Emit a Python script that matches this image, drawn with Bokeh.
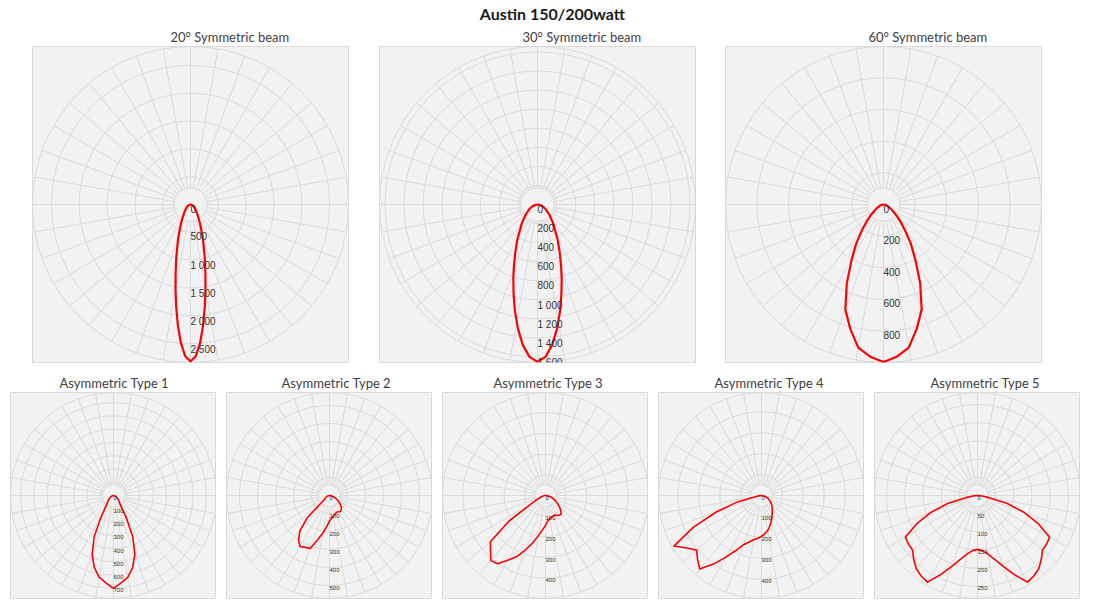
import numpy as np
from bokeh.plotting import figure
from bokeh.layouts import column, row
from bokeh.models import Range1d, Label
from bokeh.embed import file_html
from bokeh.resources import INLINE
from bokeh.core.properties import value

MAIN_TITLE = "Austin 150/200watt"

TITLES_TOP = ["20° Symmetric beam", "30° Symmetric beam", "60° Symmetric beam"]
TITLES_BOTTOM = ["Asymmetric Type 1", "Asymmetric Type 2", "Asymmetric Type 3",
                 "Asymmetric Type 4", "Asymmetric Type 5"]

# ---- symmetric curves (angle from nadir in degrees, intensity in cd) ----
beam20_angles = [0, 2, 4, 6, 8, 10, 12, 15, 20, 25, 30, 40, 50, 60, 70, 80, 90]
beam20_cd = [2820, 2730, 2490, 2180, 1850, 1550, 1290, 990, 650, 430, 300, 165, 100, 62, 36, 16, 0]

beam30_angles = [0, 3, 6, 9, 12, 15, 18, 21, 25, 30, 40, 50, 60, 70, 80, 90]
beam30_cd = [1650, 1600, 1480, 1315, 1140, 970, 820, 690, 550, 420, 255, 160, 100, 60, 28, 0]

beam60_angles = [0, 5, 10, 15, 20, 25, 30, 35, 40, 45, 50, 55, 60, 70, 80, 90]
beam60_cd = [995, 965, 918, 812, 705, 548, 402, 300, 210, 150, 105, 72, 50, 25, 10, 0]

type1_angles = [0, 5, 10, 15, 20, 25, 30, 35, 40, 45, 50, 60, 70, 80, 90]
type1_cd = [700, 660, 625, 560, 470, 345, 190, 100, 70, 58, 48, 30, 15, 6, 0]

type5_angles = [0, 5, 10, 15, 20, 25, 30, 35, 40, 45, 50, 55, 60, 65, 70, 75, 80, 85, 90]
type5_cd = [148, 152, 163, 182, 207, 240, 275, 270, 262, 248, 233, 232, 229, 185, 137, 85, 30, 10, 0]

# ---- asymmetric curves, -90 (left) .. +90 (right) in 5 degree steps ----
asym_angles = [-90, -85, -80, -75, -70, -65, -60, -55, -50, -45, -40, -35, -30, -25, -20,
               -15, -10, -5, 0, 5, 10, 15, 20, 25, 30, 35, 40, 45, 50, 55, 60, 65, 70,
               75, 80, 85, 90]
type2_cd = [0, 3, 6, 10, 15, 20, 25, 32, 45, 175, 255, 300, 327, 318, 313, 255, 212, 172,
            142, 128, 117, 110, 104, 101, 104, 108, 102, 93, 80, 66, 52, 40, 28, 20, 10, 5, 0]
type3_cd = [0, 4, 8, 15, 25, 45, 80, 215, 348, 376, 411, 403, 360, 325, 278, 237, 197, 167,
            145, 123, 115, 110, 106, 104, 112, 117, 118, 105, 89, 75, 60, 47, 35, 26, 15, 7, 0]
type4_cd = [0, 8, 22, 118, 230, 360, 483, 437, 405, 432, 459, 400, 340, 290, 250, 230, 215, 205,
            195, 183, 170, 152, 135, 117, 102, 90, 80, 70, 62, 53, 43, 35, 27, 20, 12, 5, 0]

# radial axis: maximum and label step for each panel
TOP_RMAX = [2840, 1657, 998]
TOP_STEP = [500, 200, 200]
BOT_RMAX = [776, 572, 498, 492, 283]
BOT_STEP = [100, 100, 100, 100, 50]

GRID = "#dadada"
RED = "#ff0000"
TITLE_FONT = "Lato"
LABEL_FONT = "Liberation Sans"


def mirror(angles, cd):
    a = [-x for x in reversed(angles)] + list(angles[1:])
    c = list(reversed(cd)) + list(cd[1:])
    return a, c


def fmt(v):
    return f"{v:,}".replace(",", " ")


def polar_panel(title, angles, cd, rmax, step, frame, borders, label_size, lw, toff):
    bl, br, bt, bb = borders
    p = figure(frame_width=frame, frame_height=frame,
               x_range=Range1d(-rmax, rmax), y_range=Range1d(-rmax, rmax),
               x_axis_location=None, y_axis_location=None,
               output_backend="svg", toolbar_location=None,
               min_border_left=bl, min_border_right=br,
               min_border_top=bt, min_border_bottom=bb)
    p.grid.visible = False
    p.background_fill_color = "#f2f2f2"
    p.border_fill_color = "white"
    p.outline_line_color = "#d9d9d9"
    p.title.text = title
    p.title.align = "left"
    p.title.offset = toff
    p.title.standoff = 4
    p.title.text_font = TITLE_FONT
    p.title.text_font_style = "normal"
    p.title.text_font_size = "13px"
    p.title.text_color = "#404040"

    ticks = list(range(0, rmax + 1, step))
    rings = [t for t in ticks if t > 0] + [rmax]
    p.circle(x=[0] * len(rings), y=[0] * len(rings), radius=rings,
             fill_color=None, line_color=GRID, line_width=1)
    rin = 0.105 * rmax
    p.circle(x=[0], y=[0], radius=[rin], fill_color=None, line_color=GRID, line_width=1)
    th = np.deg2rad(np.arange(0, 360, 10))
    p.segment(x0=rin * np.sin(th), y0=rin * np.cos(th),
              x1=rmax * np.sin(th), y1=rmax * np.cos(th),
              line_color=GRID, line_width=1)

    tc = np.deg2rad(np.array(angles, dtype=float))
    r = np.array(cd, dtype=float)
    p.line(x=r * np.sin(tc), y=-r * np.cos(tc), line_color=RED, line_width=lw,
           line_join="round")

    p.text(x=[0] * len(ticks), y=[-t for t in ticks], text=[fmt(t) for t in ticks],
           text_font=value(LABEL_FONT), text_font_size=label_size,
           text_color="#333333", text_align="left", text_baseline="top")
    return p


# main title strip
head = figure(width=1080, height=24, x_range=Range1d(0, 1), y_range=Range1d(0, 1),
              x_axis_location=None, y_axis_location=None, output_backend="svg",
              toolbar_location=None, min_border=0, outline_line_color=None)
head.grid.visible = False
head.add_layout(Label(x=0.511, y=0.46, text=MAIN_TITLE, text_align="center",
                      text_baseline="middle", text_font=TITLE_FONT,
                      text_font_style="bold", text_font_size="16px", text_color="#1a1a1a"))

top_sets = [mirror(beam20_angles, beam20_cd), mirror(beam30_angles, beam30_cd),
            mirror(beam60_angles, beam60_cd)]
top_off = [138, 143, 143]
top_borders = [(32, 7, 22, 8), (24, 6, 22, 8), (24, 7, 22, 8)]
top_figs = []
for i in range(3):
    a, c = top_sets[i]
    top_figs.append(polar_panel(TITLES_TOP[i], a, c, TOP_RMAX[i], TOP_STEP[i], 316,
                                top_borders[i], "10px", 2.2, top_off[i]))

bot_sets = [mirror(type1_angles, type1_cd), (asym_angles, type2_cd), (asym_angles, type3_cd),
            (asym_angles, type4_cd), mirror(type5_angles, type5_cd)]
bot_off = [49, 55, 51, 56, 56]
bot_figs = []
for i in range(5):
    a, c = bot_sets[i]
    bot_figs.append(polar_panel(TITLES_BOTTOM[i], a, c, BOT_RMAX[i], BOT_STEP[i], 206,
                                (10, 0, 22, 2), "6px", 1.6, bot_off[i]))

layout = column(head, row(*top_figs, spacing=0), row(*bot_figs, spacing=0), spacing=0)

open("out.html", "w").write(file_html(layout, INLINE))
